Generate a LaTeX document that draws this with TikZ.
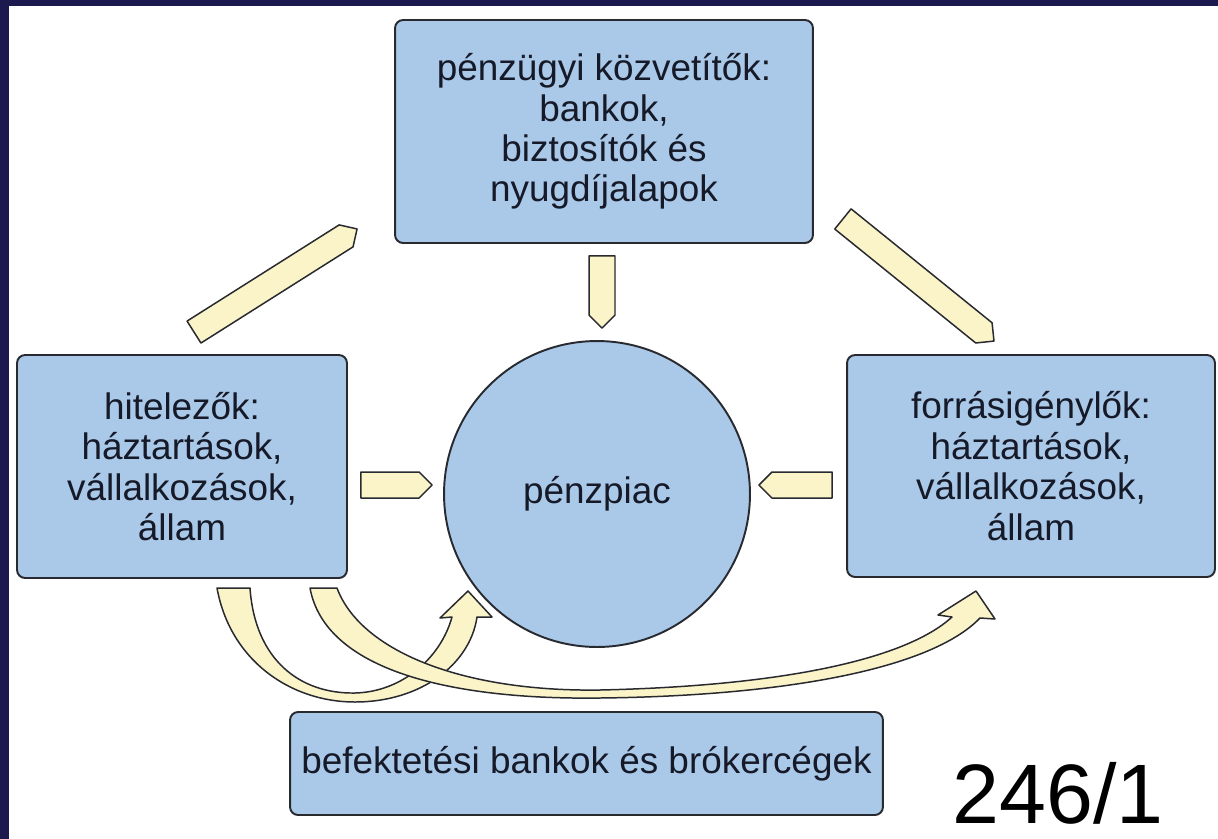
\documentclass[tikz,border=0pt]{standalone}
\usepackage{fontspec}
\setmainfont{Liberation Sans}
\usetikzlibrary{calc}

\definecolor{boxblue}{RGB}{170,201,233}
\definecolor{edgegray}{RGB}{40,42,48}
\definecolor{flowyellow}{RGB}{250,244,200}
\definecolor{frameblue}{RGB}{27,25,78}
\definecolor{inkblue}{RGB}{22,26,40}

% straight block arrow from #1 (tail) to #2 (tip)
\newcommand{\blockarrow}[2]{%
  \coordinate (ba-e) at ($(#2)!0.26cm!(#1)$);
  \filldraw[flow] ($(#1)!0.26cm!90:(#2)$) -- ($(ba-e)!0.26cm!90:(#2)$) -- (#2)
    -- ($(ba-e)!0.26cm!-90:(#2)$) -- ($(#1)!0.26cm!-90:(#2)$) -- cycle;
}

\begin{document}
\begin{tikzpicture}[
    x=0.02cm, y=-0.02cm,
    font=\fontsize{21}{23}\selectfont,
    area/.style={rectangle, draw=edgegray, line width=1.1pt, rounded corners=0.16cm, fill=boxblue, text=inkblue, align=center, inner sep=0pt},
    flow/.style={draw=edgegray, line width=0.85pt, fill=flowyellow, line join=round}
  ]
    \useasboundingbox (0,0) rectangle (1218,839);
    % frame
    \fill[frameblue] (0,0) rectangle (1218,6);
    \fill[frameblue] (0,0) rectangle (9,839);

    \node[area, minimum width=8.36cm, minimum height=4.46cm] (kozv) at (604,131.5) {pénzügyi közvetítők:\\ bankok,\\ biztosítók és\\ nyugdíjalapok};
    \node[area, minimum width=6.6cm, minimum height=4.46cm] (hitel) at (182,466.5) {hitelezők:\\ háztartások,\\ vállalkozások,\\ állam};
    \node[area, minimum width=7.36cm, minimum height=4.44cm] (forras) at (1031,466) {forrásigénylők:\\ háztartások,\\ vállalkozások,\\ állam};
    \node[area, circle, minimum size=6.12cm] (piac) at (597,494) {pénzpiac};
    \node[area, minimum width=11.86cm, minimum height=2.06cm] (befekt) at (586.5,763.5) {befektetési bankok és brókercégek};
    \node[anchor=base, font=\fontsize{48}{50}\selectfont, text=black] (num) at (1058,823) {246/1};

    \coordinate (hk-s) at ($(hitel.north)+(12,-22)$);
    \coordinate (hk-t) at ($(kozv.south west)+(-37,-15)$);
    \blockarrow{hk-s}{hk-t}
    \coordinate (kp-s) at ($(kozv.south)+(-2,12)$);
    \coordinate (kp-t) at ($(piac.north)+(5,-12)$);
    \blockarrow{kp-s}{kp-t}
    \coordinate (kf-s) at ($(kozv.south east)+(29,-25)$);
    \coordinate (kf-t) at ($(forras.north)+(-37,-13)$);
    \blockarrow{kf-s}{kf-t}
    \coordinate (hp-s) at ($(hitel.east)+(13,18.5)$);
    \coordinate (hp-t) at ($(piac.west)+(-11,-9)$);
    \blockarrow{hp-s}{hp-t}
    \coordinate (fp-s) at ($(forras.west)+(-14,19)$);
    \coordinate (fp-t) at ($(piac.east)+(8,-9)$);
    \blockarrow{fp-s}{fp-t}

    % curved arrows through the brokers
    \filldraw[flow] (217,588) .. controls (230,660) and (290,702) .. (355,702)
      .. controls (420,702) and (470,665) .. (477,617)
      -- (492,617) -- (468,591) -- (440,618) -- (452,617)
      .. controls (440,660) and (400,692) .. (355,693)
      .. controls (300,694) and (255,660) .. (250,588) -- cycle;
    \filldraw[flow] (310,588) .. controls (325,670) and (450,700) .. (600,698)
      .. controls (780,696) and (930,670) .. (980,618)
      -- (995,619) -- (976,591) -- (938,615) -- (952,617)
      .. controls (905,660) and (780,686) .. (600,690)
      .. controls (460,692) and (360,650) .. (337,588) -- cycle;
\end{tikzpicture}
\end{document}
